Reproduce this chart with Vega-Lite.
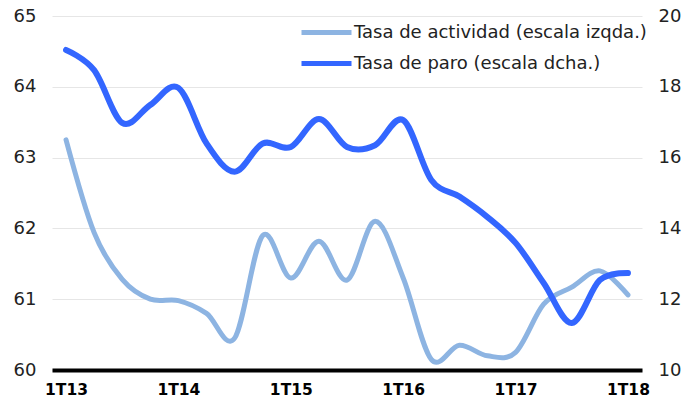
{
  "$schema": "https://vega.github.io/schema/vega-lite/v6.json",
  "width": 590,
  "height": 354,
  "autosize": "none",
  "padding": {"left": 52, "top": 16, "right": 42, "bottom": 31},
  "background": "white",
  "config": {
    "view": {"stroke": null},
    "font": "DejaVu Sans"
  },
  "data": {
    "values": [
      {"periodo": "1T13", "actividad": 63.25, "paro": 19.04},
      {"periodo": "2T13", "actividad": 61.94, "paro": 18.47},
      {"periodo": "3T13", "actividad": 61.28, "paro": 16.98},
      {"periodo": "4T13", "actividad": 61.0, "paro": 17.49},
      {"periodo": "1T14", "actividad": 60.98, "paro": 17.97},
      {"periodo": "2T14", "actividad": 60.8, "paro": 16.4},
      {"periodo": "3T14", "actividad": 60.45, "paro": 15.6},
      {"periodo": "4T14", "actividad": 61.9, "paro": 16.4},
      {"periodo": "1T15", "actividad": 61.3, "paro": 16.3},
      {"periodo": "2T15", "actividad": 61.82, "paro": 17.09},
      {"periodo": "3T15", "actividad": 61.27, "paro": 16.3},
      {"periodo": "4T15", "actividad": 62.1, "paro": 16.35},
      {"periodo": "1T16", "actividad": 61.3, "paro": 17.06},
      {"periodo": "2T16", "actividad": 60.15, "paro": 15.37},
      {"periodo": "3T16", "actividad": 60.35, "paro": 14.9},
      {"periodo": "4T16", "actividad": 60.2, "paro": 14.32},
      {"periodo": "1T17", "actividad": 60.25, "paro": 13.59},
      {"periodo": "2T17", "actividad": 60.93, "paro": 12.46},
      {"periodo": "3T17", "actividad": 61.17, "paro": 11.33},
      {"periodo": "4T17", "actividad": 61.4, "paro": 12.54},
      {"periodo": "1T18", "actividad": 61.06, "paro": 12.74}
    ]
  },
  "encoding": {
    "x": {
      "field": "periodo",
      "type": "ordinal",
      "sort": null,
      "scale": {"type": "point", "padding": 0.5},
      "axis": {
        "title": null,
        "values": ["1T13", "1T14", "1T15", "1T16", "1T17", "1T18"],
        "labelAngle": 0,
        "labelFontWeight": "bold",
        "labelFontSize": 15.5,
        "labelColor": "#000000",
        "labelPadding": 12,
        "ticks": false,
        "domainColor": "#000000",
        "domainWidth": 4,
        "zindex": 1
      }
    }
  },
  "layer": [
    {
      "mark": {"type": "line", "interpolate": "cardinal", "strokeWidth": 5, "strokeCap": "round"},
      "encoding": {
        "y": {
          "field": "actividad",
          "type": "quantitative",
          "scale": {"domain": [60, 65], "nice": false, "zero": false},
          "axis": {
            "title": null,
            "orient": "left",
            "values": [60, 61, 62, 63, 64, 65],
            "labelFontSize": 18,
            "labelColor": "#222222",
            "labelPadding": 16,
            "domain": false,
            "ticks": false,
            "grid": true,
            "gridColor": "#e6e6e6",
            "gridWidth": 1
          }
        },
        "color": {
          "datum": "Tasa de actividad (escala izqda.)",
          "scale": {
            "domain": ["Tasa de actividad (escala izqda.)", "Tasa de paro (escala dcha.)"],
            "range": ["#8DB4E2", "#3366FF"]
          },
          "legend": {
            "title": null,
            "orient": "none",
            "legendX": 247,
            "legendY": 1,
            "symbolType": "stroke",
            "symbolSize": 2500,
            "symbolStrokeWidth": 5,
            "labelFontSize": 18,
            "labelColor": "#222222",
            "labelOffset": 0,
            "labelLimit": 500,
            "clipHeight": 31,
            "rowPadding": 0,
            "padding": 0
          }
        }
      }
    },
    {
      "mark": {"type": "line", "interpolate": "cardinal", "strokeWidth": 6, "strokeCap": "round"},
      "encoding": {
        "y": {
          "field": "paro",
          "type": "quantitative",
          "scale": {"domain": [10, 20], "nice": false, "zero": false},
          "axis": {
            "title": null,
            "orient": "right",
            "values": [10, 12, 14, 16, 18, 20],
            "labelFontSize": 18,
            "labelColor": "#222222",
            "labelPadding": 16,
            "domain": false,
            "ticks": false,
            "grid": false
          }
        },
        "color": {"datum": "Tasa de paro (escala dcha.)"}
      }
    }
  ],
  "resolve": {"scale": {"y": "independent"}}
}
